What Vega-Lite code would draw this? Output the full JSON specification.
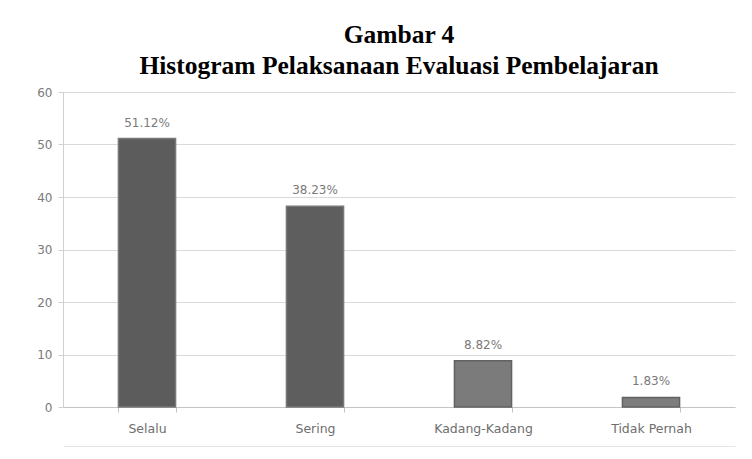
{
  "$schema": "https://vega.github.io/schema/vega-lite/v6.json",
  "autosize": "none",
  "width": 672,
  "height": 315,
  "padding": {"left": 63, "top": 92, "right": 17, "bottom": 52},
  "background": "white",
  "title": {
    "text": ["Gambar 4", "Histogram Pelaksanaan Evaluasi Pembelajaran"],
    "font": "Liberation Serif",
    "fontSize": 25.5,
    "fontWeight": "bold",
    "color": "black",
    "anchor": "middle",
    "frame": "group",
    "baseline": "bottom",
    "lineHeight": 31,
    "offset": -18
  },
  "data": {
    "values": [
      {"kategori": "Selalu", "persen": 51.12, "label": "51.12%"},
      {"kategori": "Sering", "persen": 38.23, "label": "38.23%"},
      {"kategori": "Kadang-Kadang", "persen": 8.82, "label": "8.82%"},
      {"kategori": "Tidak Pernah", "persen": 1.83, "label": "1.83%"}
    ]
  },
  "encoding": {
    "y": {
      "field": "persen",
      "type": "quantitative",
      "title": null,
      "scale": {"domain": [0, 60], "nice": false},
      "axis": {
        "values": [0, 10, 20, 30, 40, 50, 60],
        "labelFont": "DejaVu Sans",
        "labelFontSize": 12,
        "labelColor": "#7a7a7a",
        "labelPadding": 6,
        "domainColor": "#d0d0d0",
        "tickColor": "#d0d0d0",
        "tickSize": 5,
        "gridColor": "#dadada",
        "gridWidth": 1
      }
    }
  },
  "layer": [
    {
      "mark": {"type": "bar", "strokeWidth": 1.5},
      "encoding": {
        "x": {
          "field": "kategori",
          "type": "nominal",
          "sort": null,
          "title": null,
          "scale": {"paddingInner": 0.66, "paddingOuter": 0.33},
          "axis": {
            "orient": "bottom",
            "labelAngle": 0,
            "labelFont": "DejaVu Sans",
            "labelFontSize": 12.5,
            "labelColor": "#6e6e6e",
            "labelPadding": 10,
            "domainColor": "#c4c4c4",
            "tickColor": "#c4c4c4",
            "tickSize": 5,
            "tickBand": "extent",
            "grid": false
          }
        },
        "color": {
          "field": "kategori",
          "type": "nominal",
          "scale": {
            "domain": ["Selalu", "Sering", "Kadang-Kadang", "Tidak Pernah"],
            "range": ["#5c5c5c", "#5e5e5e", "#7b7b7b", "#7d7d7d"]
          },
          "legend": null
        },
        "stroke": {
          "field": "kategori",
          "type": "nominal",
          "scale": {
            "domain": ["Selalu", "Sering", "Kadang-Kadang", "Tidak Pernah"],
            "range": ["#787878", "#787878", "#626262", "#626262"]
          },
          "legend": null
        }
      }
    },
    {
      "mark": {
        "type": "text",
        "baseline": "alphabetic",
        "dy": -12,
        "font": "DejaVu Sans",
        "fontSize": 12,
        "color": "#7a7a7a"
      },
      "encoding": {
        "x": {
          "field": "kategori",
          "type": "nominal",
          "sort": null,
          "title": null,
          "axis": {
            "orient": "bottom",
            "offset": 39,
            "labels": false,
            "ticks": false,
            "grid": false,
            "domainColor": "#e4e4e4"
          }
        },
        "text": {"field": "label"}
      }
    }
  ],
  "resolve": {"axis": {"x": "independent"}},
  "config": {
    "view": {"stroke": null}
  }
}
